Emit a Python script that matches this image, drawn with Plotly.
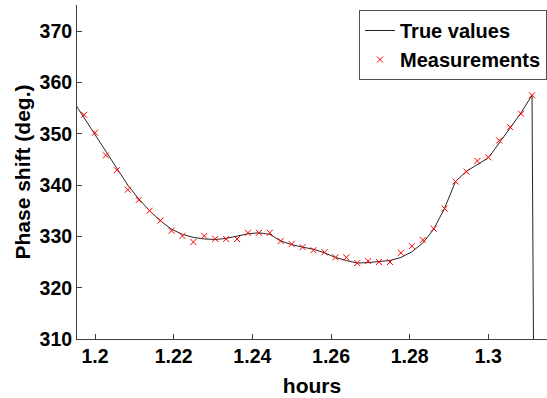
import numpy as np
import plotly.graph_objects as go

# sample index k -> time in hours = k / 360 (10 s samples)
meas_k = list(range(431, 473))
meas_vals = [353.7, 350.2, 345.8, 342.9, 339.1, 337.1, 335.0, 333.1, 331.1, 330.1,
             328.9, 330.1, 329.5, 329.5, 329.5, 330.7, 330.7, 330.7, 329.1, 328.5,
             327.9, 327.3, 326.9, 325.9, 325.9, 324.8, 325.2, 325.0, 325.0, 326.8,
             328.1, 329.3, 331.5, 335.4, 340.7, 342.6, 344.7, 345.4, 348.7, 351.3,
             353.9, 357.5]

true_k = list(range(430, 474))
true_vals = [356.4, 353.1, 349.8, 346.4, 343.1, 340.0, 337.3, 335.0, 333.0, 331.4,
             330.4, 329.8, 329.5, 329.4, 329.6, 330.0, 330.5, 330.7, 330.4, 329.1,
             328.4, 327.9, 327.5, 326.8, 325.9, 325.3, 324.8, 324.9, 325.1, 325.3,
             325.9, 327.0, 328.7, 331.4, 335.5, 340.7, 342.7, 344.0, 345.3, 348.2,
             351.1, 354.1, 357.5, 0.5]

x_ticks = [1.2, 1.22, 1.24, 1.26, 1.28, 1.3]
x_tick_text = ["1.2", "1.22", "1.24", "1.26", "1.28", "1.3"]
y_ticks = [310, 320, 330, 340, 350, 360, 370]

meas_x = [k / 360 for k in meas_k]
true_x = [k / 360 for k in true_k]

FONT = "Liberation Sans, Arial, sans-serif"

fig = go.Figure()
fig.add_trace(go.Scatter(
    x=true_x, y=true_vals, mode="lines", name="True values",
    line=dict(color="#262626", width=1),
))
fig.add_trace(go.Scatter(
    x=meas_x, y=meas_vals, mode="markers", name="Measurements",
    marker=dict(symbol="x-thin", size=6, color="red",
                line=dict(color="red", width=1)),
))

fig.update_layout(
    width=547, height=398,
    margin=dict(l=77, r=0, t=5, b=59),
    paper_bgcolor="white", plot_bgcolor="white",
    font=dict(family=FONT, size=19, color="black"),
    showlegend=True,
    legend=dict(
        x=1.0, y=0.985, xanchor="right", yanchor="top",
        bgcolor="white", bordercolor="#505050", borderwidth=1,
        font=dict(family=FONT, size=20, color="black", weight="bold"),
        tracegroupgap=0, itemwidth=30,
    ),
    xaxis=dict(
        range=[1.19542, 1.31492],
        tickvals=x_ticks, ticktext=x_tick_text,
        ticks="inside", ticklen=5, tickcolor="#404040",
        showline=True, linecolor="#404040", linewidth=1,
        mirror=False, showgrid=False, zeroline=False,
        tickfont=dict(family=FONT, size=19.5, color="black", weight="bold"),
        title=dict(text="hours", standoff=11,
                   font=dict(family=FONT, size=21, color="black", weight="bold")),
    ),
    yaxis=dict(
        range=[310, 375.1],
        tickvals=y_ticks,
        ticks="inside", ticklen=5, tickcolor="#404040",
        showline=True, linecolor="#404040", linewidth=1,
        mirror=False, showgrid=False, zeroline=False,
        tickfont=dict(family=FONT, size=19.5, color="black", weight="bold"),
        title=dict(text="Phase shift (deg.)", standoff=3,
                   font=dict(family=FONT, size=21, color="black", weight="bold")),
    ),
)

fig.write_html("out.html")
